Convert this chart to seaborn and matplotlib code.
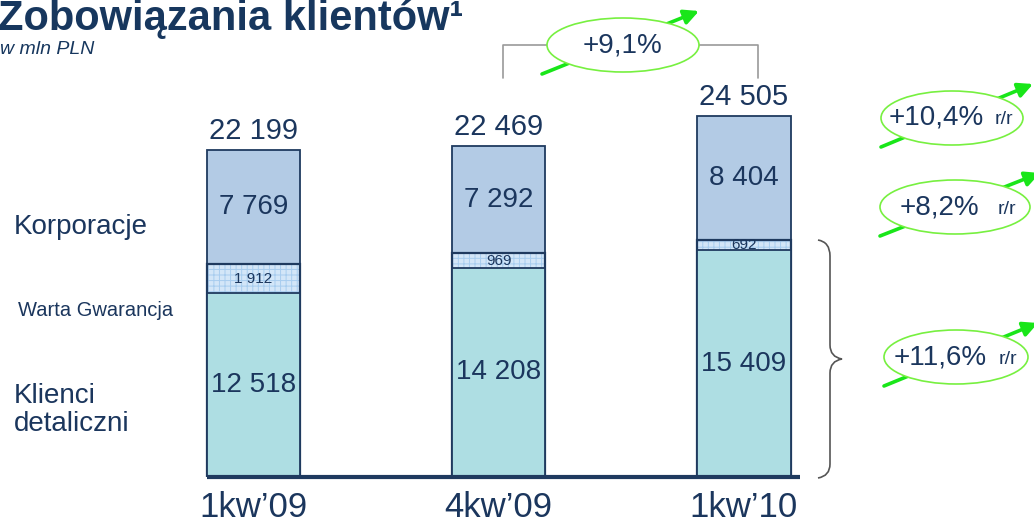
import matplotlib
matplotlib.use('Agg')
import matplotlib.pyplot as plt
from matplotlib.patches import Ellipse
from matplotlib.path import Path
from matplotlib.patches import PathPatch
import pandas as pd
import seaborn as sns

# dane (mln PLN)
kwartaly = ["1kw\u201909", "4kw\u201909", "1kw\u201910"]
korporacje = [7769, 7292, 8404]
warta = [1912, 969, 692]
detaliczni = [12518, 14208, 15409]
sumy = [22199, 22469, 24505]
dynamika_kw = "+9,1%"
dynamika_rr = ["+10,4%", "+8,2%", "+11,6%"]

df = pd.DataFrame({"kwartal": kwartaly, "korp": korporacje, "wg": warta,
                   "det": detaliczni, "suma": sumy})
df["det_wg"] = df["det"] + df["wg"]

sns.set_style("white")
plt.rcParams['font.family'] = ['Liberation Sans', 'DejaVu Sans']
plt.rcParams['hatch.linewidth'] = 0.7

NAVY = '#1f3a5f'
TXT = '#1b365d'
C_KORP = '#b3cbe5'
C_DET = '#aedee3'
C_WG = '#d3e6f8'
GREEN = '#19e619'
ELL = '#77f040'

W, H = 1034, 523
fig = plt.figure(figsize=(W / 100, H / 100), dpi=100)
ax = fig.add_axes([0, 46 / H, 1, 477 / H])


def px(x, y):
    return (x / W, 1 - y / H)


bw = 0.38
# warstwy od najwyzszej do najnizszej
sns.barplot(data=df, x="kwartal", y="suma", color=C_KORP, edgecolor=NAVY,
            linewidth=1.3, width=bw, saturation=1, ax=ax, zorder=2)
sns.barplot(data=df, x="kwartal", y="det_wg", color=C_WG, edgecolor='#a8cdef',
            linewidth=0, hatch='+++', width=bw, saturation=1, ax=ax, zorder=3)
sns.barplot(data=df, x="kwartal", y="det_wg", fill=False, edgecolor=NAVY,
            linewidth=1.6, width=bw, ax=ax, zorder=4)
sns.barplot(data=df, x="kwartal", y="det", color=C_DET, edgecolor=NAVY,
            linewidth=1.3, width=bw, saturation=1, ax=ax, zorder=5)

ax.set_xlim(-1.034, 3.183)
ax.set_ylim(0, 32382)
sns.despine(ax=ax, left=True, bottom=True)
ax.set_yticks([])
ax.set_xlabel("")
ax.set_ylabel("")
ax.tick_params(axis='x', length=0, pad=10, labelsize=25, labelcolor=TXT)

# linia bazowa
ax.plot([-bw / 2, 2 + bw / 2 + 0.04], [0, 0], color=NAVY, lw=3,
        zorder=6, clip_on=False, solid_capstyle='butt')


def fmt(v):
    return f"{v:,}".replace(",", " ")


for i in range(len(kwartaly)):
    ax.annotate(fmt(sumy[i]), (i, sumy[i]), xytext=(0, 14),
                textcoords='offset points', ha='center', va='center',
                fontsize=21, color=TXT, zorder=7)
    ax.text(i, detaliczni[i] + warta[i] + korporacje[i] / 2, fmt(korporacje[i]),
            ha='center', va='center', fontsize=20, color=TXT, zorder=7)
    ax.text(i, detaliczni[i] + warta[i] / 2, fmt(warta[i]),
            ha='center', va='center', fontsize=11, color=TXT, zorder=7)
    ax.text(i, detaliczni[i] / 2, fmt(detaliczni[i]),
            ha='center', va='center', fontsize=20, color=TXT, zorder=7)

# tytul
fig.text(*px(-2, 30), "Zobowi\u0105zania klient\u00f3w\u00b9", fontsize=30,
         fontweight='bold', color='#17375e', ha='left', va='baseline')
fig.text(*px(0, 50), "w mln PLN", fontsize=14, style='italic',
         color='#17375e', ha='left', va='center')

# opisy segmentow
fig.text(*px(14, 227), "Korporacje", fontsize=20, color=TXT, va='center')
fig.text(*px(18, 311), "Warta Gwarancja", fontsize=14.5, color=TXT, va='center')
fig.text(*px(14, 410), "Klienci\ndetaliczni", fontsize=20, color=TXT,
         va='center', linespacing=1.12)

# klamra kwartalna u gory
gray = '#9a9a9a'
fig.add_artist(plt.Line2D([503 / W, 503 / W, 560 / W], [1 - 78 / H, 1 - 45 / H, 1 - 45 / H],
                          color=gray, lw=1.2))
fig.add_artist(plt.Line2D([690 / W, 758 / W, 758 / W], [1 - 45 / H, 1 - 45 / H, 1 - 78 / H],
                          color=gray, lw=1.2))


def bubble(cx, cy, w, h, main, small=None, tip_dx=10, start_dx=0):
    # strzalka pod elipsa
    ax.annotate('', xy=px(cx + w / 2 + tip_dx, cy - 34),
                xytext=px(cx - w / 2 - start_dx, cy + 29),
                xycoords='figure fraction', textcoords='figure fraction',
                arrowprops=dict(arrowstyle='-|>', color=GREEN, lw=2.6,
                                mutation_scale=22, shrinkA=0, shrinkB=0),
                annotation_clip=False, zorder=8)
    e = Ellipse(px(cx, cy), w / W, h / H, transform=fig.transFigure,
                facecolor='white', edgecolor=ELL, lw=1.2, zorder=9)
    fig.add_artist(e)
    if small is None:
        fig.text(*px(cx, cy), main, fontsize=20, color=TXT, ha='center',
                 va='center', zorder=10)
    else:
        fig.text(*px(cx - 16, cy), main, fontsize=20, color=TXT,
                 ha='center', va='center', zorder=10)
        fig.text(*px(cx + 52, cy + 2), small, fontsize=14, color=TXT,
                 ha='center', va='center', zorder=10)


bubble(623, 45, 152, 54, dynamika_kw, tip_dx=0, start_dx=5)
bubble(952, 118, 142, 54, dynamika_rr[0], "r/r")
bubble(955, 207, 150, 54, dynamika_rr[1], "r/r")
bubble(956, 357, 144, 54, dynamika_rr[2], "r/r")

# klamra detaliczni + warta
verts = [px(818, 240), px(830, 242), px(830, 256),
         px(830, 345), px(830, 357), px(842, 359),
         px(830, 361), px(830, 373),
         px(830, 464), px(830, 476), px(818, 478)]
codes = [Path.MOVETO, Path.CURVE3, Path.CURVE3,
         Path.LINETO, Path.CURVE3, Path.CURVE3,
         Path.CURVE3, Path.CURVE3,
         Path.LINETO, Path.CURVE3, Path.CURVE3]
fig.add_artist(PathPatch(Path(verts, codes), transform=fig.transFigure,
                         fill=False, edgecolor='#555555', lw=1.2))

fig.savefig("out.png", dpi=100)
